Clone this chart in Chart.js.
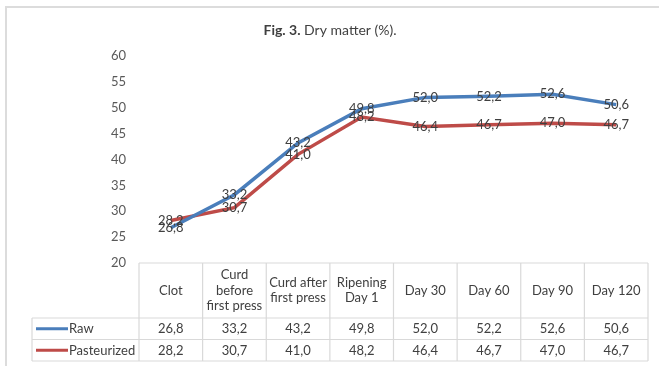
<!DOCTYPE html>
<html>
<head>
<meta charset="utf-8">
<script src="https://cdn.jsdelivr.net/npm/chart.js@4/dist/chart.umd.min.js"></script>
<style>
  html, body { margin: 0; padding: 0; background: #ffffff; }
  #wrap { width: 659px; height: 366px; position: relative; }
</style>
</head>
<body>
<div id="wrap"><canvas id="c" width="659" height="366"></canvas></div>
<script>
// Sampling stages (multi-line header labels of the data table)
const categories = [
  ['Clot'],
  ['Curd', 'before', 'first press'],
  ['Curd after', 'first press'],
  ['Ripening', 'Day 1'],
  ['Day 30'],
  ['Day 60'],
  ['Day 90'],
  ['Day 120']
];
// Dry matter, %
const rawValues = [26.8, 33.2, 43.2, 49.8, 52.0, 52.2, 52.6, 50.6];
const pasteurizedValues = [28.2, 30.7, 41.0, 48.2, 46.4, 46.7, 47.0, 46.7];
const seriesNames = ['Raw', 'Pasteurized'];
const yTicks = [20, 25, 30, 35, 40, 45, 50, 55, 60];

const FONT = 'Lato, "Open Sans", sans-serif';
const TEXT = '#404040';
const GRID = '#d9d9d9';
const BLUE = '#4a7ebb';
const RED = '#be4b48';

const fmt = v => v.toFixed(1).replace('.', ',');

// Title with a bold "Fig. 3." prefix
const titlePlugin = {
  id: 'figTitle',
  afterDraw(chart) {
    const ctx = chart.ctx;
    ctx.save();
    ctx.textBaseline = 'middle';
    ctx.fillStyle = TEXT;
    const boldPart = 'Fig. 3.';
    const normalPart = ' Dry matter (%).';
    ctx.font = 'bold 14px ' + FONT;
    const wb = ctx.measureText(boldPart).width;
    ctx.font = '14px ' + FONT;
    const wn = ctx.measureText(normalPart).width;
    const x0 = 330 - (wb + wn) / 2;
    ctx.font = 'bold 14px ' + FONT;
    ctx.textAlign = 'left';
    ctx.fillText(boldPart, x0, 30);
    ctx.font = '14px ' + FONT;
    ctx.fillText(normalPart, x0 + wb, 30);
    ctx.restore();
  }
};

// Frame around the chart (top and left edges fall inside the canvas)
const framePlugin = {
  id: 'frame',
  beforeDraw(chart) {
    const ctx = chart.ctx;
    ctx.save();
    ctx.strokeStyle = '#dcdcdc';
    ctx.lineWidth = 2;
    ctx.strokeRect(6, 7, 700, 400);
    ctx.restore();
  }
};

// Value labels centred on each point
const valueLabels = {
  id: 'valueLabels',
  afterDatasetsDraw(chart) {
    const ctx = chart.ctx;
    ctx.save();
    ctx.font = '13px ' + FONT;
    ctx.fillStyle = TEXT;
    ctx.textAlign = 'center';
    ctx.textBaseline = 'middle';
    chart.data.datasets.forEach((ds, i) => {
      const meta = chart.getDatasetMeta(i);
      meta.data.forEach((pt, j) => {
        ctx.fillText(fmt(ds.data[j]), pt.x, pt.y);
      });
    });
    ctx.restore();
  }
};

// Data table under the plot, columns aligned with the category scale
const dataTable = {
  id: 'dataTable',
  afterDraw(chart) {
    const ctx = chart.ctx;
    const xs = chart.scales.x;
    const area = chart.chartArea;
    const n = categories.length;
    const step = (area.right - area.left) / n;
    const top = area.bottom;
    const headBottom = 318;
    const rowH = 21.5;
    const rows = [headBottom, headBottom + rowH, headBottom + 2 * rowH];
    const legendLeft = 32;

    ctx.save();
    ctx.strokeStyle = GRID;
    ctx.lineWidth = 1.2;
    // header block
    ctx.beginPath();
    ctx.moveTo(area.left, top); ctx.lineTo(area.right, top);
    for (let k = 0; k <= n; k++) {
      const x = area.left + k * step;
      ctx.moveTo(x, top); ctx.lineTo(x, rows[2]);
    }
    // series rows
    rows.forEach(y => { ctx.moveTo(legendLeft, y); ctx.lineTo(area.right, y); });
    ctx.moveTo(legendLeft, rows[0]); ctx.lineTo(legendLeft, rows[2]);
    ctx.stroke();

    ctx.fillStyle = TEXT;
    ctx.font = '13px ' + FONT;
    ctx.textAlign = 'center';
    ctx.textBaseline = 'middle';
    const headMid = (top + headBottom) / 2;
    const lh = 15.5;
    categories.forEach((lines, k) => {
      const cx = xs.getPixelForValue(k);
      const y0 = headMid - (lines.length - 1) * lh / 2;
      lines.forEach((t, m) => ctx.fillText(t, cx, y0 + m * lh));
    });

    chart.data.datasets.forEach((ds, i) => {
      const cy = (rows[i] + rows[i + 1]) / 2;
      ctx.textAlign = 'center';
      ds.data.forEach((v, k) => ctx.fillText(fmt(v), xs.getPixelForValue(k), cy + 0.5));
      // legend key
      ctx.strokeStyle = ds.borderColor;
      ctx.lineWidth = 3;
      ctx.beginPath();
      ctx.moveTo(36, cy); ctx.lineTo(68, cy);
      ctx.stroke();
      ctx.textAlign = 'left';
      ctx.fillText(seriesNames[i], 69, cy + 0.5);
    });
    ctx.restore();
  }
};

new Chart(document.getElementById('c'), {
  type: 'line',
  data: {
    labels: categories.map(l => l.join(' ')),
    datasets: [
      { label: seriesNames[0], data: rawValues, borderColor: BLUE, backgroundColor: BLUE,
        borderWidth: 3.5, pointRadius: 0, tension: 0 },
      { label: seriesNames[1], data: pasteurizedValues, borderColor: RED, backgroundColor: RED,
        borderWidth: 3.5, pointRadius: 0, tension: 0 }
    ]
  },
  options: {
    responsive: false,
    animation: false,
    events: [],
    layout: { padding: { top: 56, bottom: 103, right: 11, left: 0 } },
    plugins: { legend: { display: false }, title: { display: false }, tooltip: { enabled: false } },
    scales: {
      x: { type: 'category', offset: true, display: false },
      y: {
        min: 20, max: 60,
        afterFit(s) { s.width = 139; },
        afterBuildTicks(s) { s.ticks = yTicks.map(v => ({ value: v })); },
        grid: { display: false, drawTicks: false },
        border: { display: false },
        ticks: { color: '#595959', padding: 13, font: { size: 13, family: FONT } }
      }
    }
  },
  plugins: [framePlugin, valueLabels, dataTable, titlePlugin]
});
</script>
</body>
</html>
